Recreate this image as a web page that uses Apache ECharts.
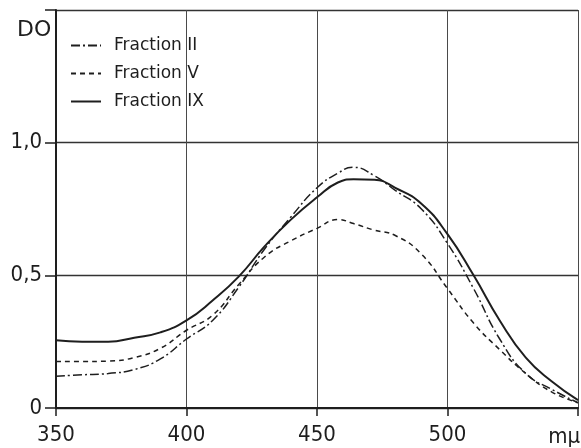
<!DOCTYPE html>
<html>
<head>
<meta charset="utf-8">
<script src="https://cdn.jsdelivr.net/npm/echarts@6/dist/echarts.min.js"></script>
<style>
html,body{margin:0;padding:0;background:#fff;}
#c{width:581px;height:448px;}
</style>
</head>
<body>
<div id="c"></div>
<script>
var wavelengths = [350,360,370,380,390,400,410,420,430,440,450,458,464,472,480,490,500,510,520,530,540,550];
var fractionII  = [0.12,0.125,0.13,0.145,0.185,0.26,0.33,0.455,0.60,0.72,0.83,0.885,0.907,0.875,0.82,0.75,0.62,0.45,0.26,0.13,0.07,0.02];
var fractionV   = [0.175,0.175,0.177,0.19,0.225,0.293,0.35,0.465,0.57,0.63,0.677,0.71,0.695,0.67,0.65,0.58,0.45,0.32,0.22,0.13,0.06,0.02];
var fractionIX  = [0.255,0.25,0.25,0.265,0.285,0.33,0.405,0.495,0.61,0.71,0.794,0.85,0.862,0.86,0.83,0.77,0.655,0.50,0.33,0.19,0.10,0.03];
var seriesNames = ['Fraction II','Fraction V','Fraction IX'];
var xTicks = [350,400,450,500];
var yTicks = ['0','0,5','1,0'];

function pairs(ys){ return wavelengths.map(function(x,i){ return [x, ys[i]]; }); }

var FONT = "'DejaVu Sans Condensed','DejaVu Sans',sans-serif";
var FONT2 = "'DejaVu Sans',sans-serif";
var INK = '#1e1e1e';

var chart = echarts.init(document.getElementById('c'), null, {renderer:'canvas'});
chart.setOption({
  animation:false,
  backgroundColor:'#fff',
  grid:{left:56, right:-1, top:10, bottom:40},
  legend:{
    left:70, top:37, padding:0, orient:'vertical', itemWidth:30, itemHeight:12, itemGap:11,
    data:seriesNames,
    itemStyle:{opacity:0},
    textStyle:{fontFamily:FONT2, fontSize:17, color:INK, padding:[0,0,0,8]}
  },
  xAxis:{
    type:'value', min:350, max:550, interval:50,
    axisLine:{lineStyle:{color:INK, width:2}},
    axisTick:{show:true, length:8, lineStyle:{color:INK, width:1.5}},
    axisLabel:{margin:16, fontFamily:FONT, fontSize:22, color:INK,
      formatter:function(v){ return xTicks.indexOf(v)>=0 ? String(v) : ''; }},
    splitLine:{show:true, lineStyle:{color:'#4a4a4a', width:1}}
  },
  yAxis:{
    type:'value', min:0, max:1.5, interval:0.5,
    axisLine:{show:true, lineStyle:{color:INK, width:2}},
    axisTick:{show:true, length:11, lineStyle:{color:INK, width:1.5}},
    axisLabel:{margin:14, fontFamily:FONT, fontSize:22, color:INK,
      formatter:function(v){ var i = Math.round(v/0.5); return i < yTicks.length ? yTicks[i] : ''; }},
    splitLine:{show:true, lineStyle:{color:'#333', width:1.3}}
  },
  series:[
    {name:seriesNames[0], type:'line', data:pairs(fractionII), smooth:0.5, symbol:'none',
     lineStyle:{color:INK, width:1.5, type:[9,3,2,3]}, itemStyle:{color:INK}},
    {name:seriesNames[1], type:'line', data:pairs(fractionV), smooth:0.5, symbol:'none',
     lineStyle:{color:INK, width:1.5, type:[5,4]}, itemStyle:{color:INK}},
    {name:seriesNames[2], type:'line', data:pairs(fractionIX), smooth:0.5, symbol:'none',
     lineStyle:{color:INK, width:2}, itemStyle:{color:INK}}
  ],
  graphic:[
    {type:'text', left:17, top:19, style:{text:'DO', font:'22px '+FONT2, fill:INK}},
    {type:'text', right:1, top:426, style:{text:'mμ', font:'22px '+FONT, fill:INK}}
  ]
});
</script>
</body>
</html>
